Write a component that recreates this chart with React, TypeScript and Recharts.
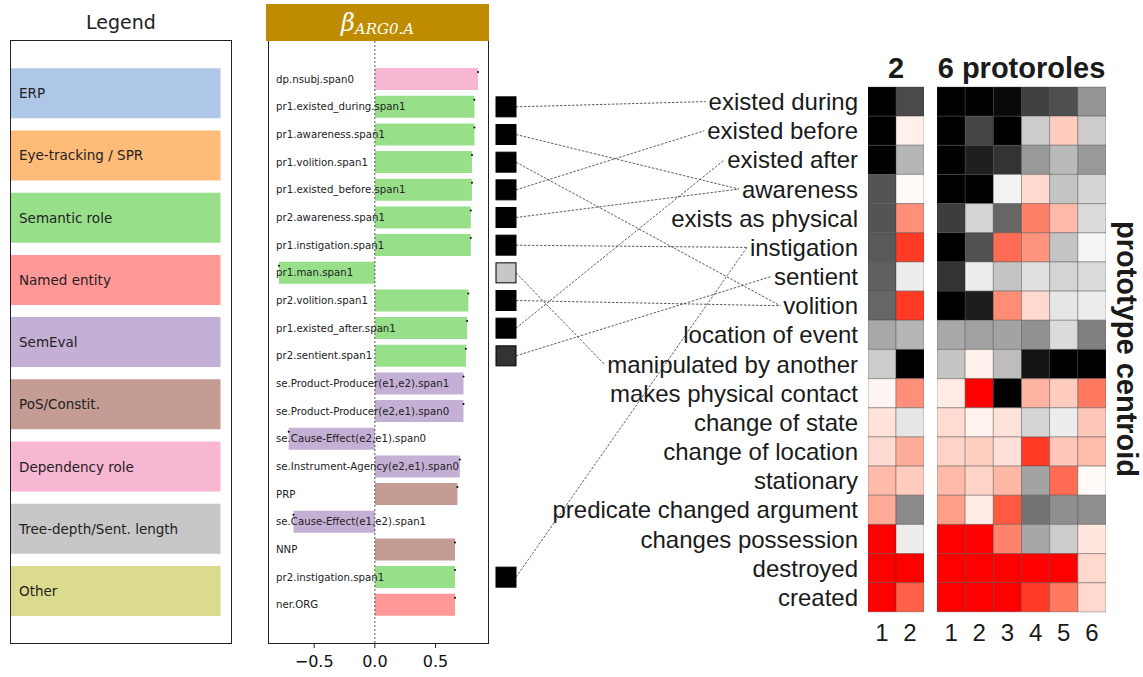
import React, { useMemo } from 'react';
import {
  BarChart,
  Bar,
  XAxis,
  YAxis,
  Cell,
  LabelList,
  ReferenceLine,
  ScatterChart,
  Scatter,
} from 'recharts';

// ---- legend panel ----
const legendGroups = [
  'ERP',
  'Eye-tracking / SPR',
  'Semantic role',
  'Named entity',
  'SemEval',
  'PoS/Constit.',
  'Dependency role',
  'Tree-depth/Sent. length',
  'Other',
];
const legendLengths = [1, 1, 1, 1, 1, 1, 1, 1, 1];

const groupColors: Record<string, string> = {
  ERP: '#aec7e8',
  'Eye-tracking / SPR': '#ffbb78',
  'Semantic role': '#98df8a',
  'Named entity': '#ff9896',
  SemEval: '#c5b0d5',
  'PoS/Constit.': '#c49c94',
  'Dependency role': '#f7b6d2',
  'Tree-depth/Sent. length': '#c7c7c7',
  Other: '#dbdb8d',
};

// ---- beta bar chart ----
const featureNames = [
  'dp.nsubj.span0',
  'pr1.existed_during.span1',
  'pr1.awareness.span1',
  'pr1.volition.span1',
  'pr1.existed_before.span1',
  'pr2.awareness.span1',
  'pr1.instigation.span1',
  'pr1.man.span1',
  'pr2.volition.span1',
  'pr1.existed_after.span1',
  'pr2.sentient.span1',
  'se.Product-Producer(e1,e2).span1',
  'se.Product-Producer(e2,e1).span0',
  'se.Cause-Effect(e2,e1).span0',
  'se.Instrument-Agency(e2,e1).span0',
  'PRP',
  'se.Cause-Effect(e1,e2).span1',
  'NNP',
  'pr2.instigation.span1',
  'ner.ORG',
];
const featureValues = [
  0.85, 0.82, 0.82, 0.8, 0.8, 0.79, 0.79, -0.79, 0.77, 0.76, 0.75, 0.73, 0.73,
  -0.71, 0.7, 0.68, -0.67, 0.66, 0.66, 0.66,
];
const featureGroups = [
  'Dependency role',
  'Semantic role',
  'Semantic role',
  'Semantic role',
  'Semantic role',
  'Semantic role',
  'Semantic role',
  'Semantic role',
  'Semantic role',
  'Semantic role',
  'Semantic role',
  'SemEval',
  'SemEval',
  'SemEval',
  'SemEval',
  'PoS/Constit.',
  'SemEval',
  'PoS/Constit.',
  'Semantic role',
  'Named entity',
];
const betaTicks = [-0.5, 0, 0.5];

// ---- protorole heatmaps ----
const protoProperties = [
  'existed during',
  'existed before',
  'existed after',
  'awareness',
  'exists as physical',
  'instigation',
  'sentient',
  'volition',
  'location of event',
  'manipulated by another',
  'makes physical contact',
  'change of state',
  'change of location',
  'stationary',
  'predicate changed argument',
  'changes possession',
  'destroyed',
  'created',
];
const twoRoleLabels = ['1', '2'];
const twoRoleCentroids = [
  [-1, -0.71],
  [-1, 0.06],
  [-1, -0.29],
  [-0.67, 0.02],
  [-0.67, 0.44],
  [-0.65, 0.77],
  [-0.62, -0.07],
  [-0.6, 0.77],
  [-0.34, -0.29],
  [-0.2, -1],
  [0.04, 0.44],
  [0.11, -0.1],
  [0.14, 0.32],
  [0.27, 0.2],
  [0.33, -0.46],
  [1, -0.07],
  [1, 1],
  [1, 0.62],
];
const sixRoleLabels = ['1', '2', '3', '4', '5', '6'];
const sixRoleCentroids = [
  [-1, -1, -0.96, -0.75, -0.69, -0.41],
  [-1, -0.73, -1, -0.2, 0.2, -0.2],
  [-1, -0.88, -0.8, -0.4, -0.27, -0.4],
  [-1, -1, -0.05, 0.15, -0.23, -0.16],
  [-0.76, -0.17, -0.6, 0.5, 0.27, -0.14],
  [-1, -0.68, 0.58, 0.42, -0.23, -0.04],
  [-0.8, -0.07, -0.23, -0.12, -0.17, -0.14],
  [-1, -0.89, 0.45, 0.15, -0.1, -0.07],
  [-0.34, -0.37, -0.36, -0.43, -0.14, -0.5],
  [-0.23, 0.06, -0.26, -0.92, -1, -1],
  [0.08, 1, -1, 0.3, 0.2, 0.53],
  [0.14, 0.05, 0.11, -0.17, -0.07, 0.22],
  [0.17, 0.19, 0.12, 0.77, 0.22, 0.26],
  [0.27, 0.17, 0.28, -0.36, 0.58, 0.02],
  [0.38, 0.08, 0.65, -0.55, -0.44, -0.44],
  [1, 1, 0.49, -0.35, -0.2, 0.1],
  [1, 1, 1, 1, 1, 0.15],
  [1, 1, 1, 0.77, 0.53, 0.15],
];

// ---- feature -> property links ----
const squareFeatures = [
  'pr1.existed_during.span1',
  'pr1.awareness.span1',
  'pr1.volition.span1',
  'pr1.existed_before.span1',
  'pr2.awareness.span1',
  'pr1.instigation.span1',
  'pr1.man.span1',
  'pr2.volition.span1',
  'pr1.existed_after.span1',
  'pr2.sentient.span1',
  'pr2.instigation.span1',
];
const squareShades = [-1, -1, -1, -1, -1, -1, -0.22, -1, -1, -0.8, -1];
const squareTargets = [
  'existed during',
  'awareness',
  'volition',
  'existed before',
  'awareness',
  'instigation',
  'manipulated by another',
  'volition',
  'existed after',
  'sentient',
  'instigation',
];

// layout
const BAR_TOP = 41;
const BAR_PLOT_H = 602;
const BAR_DOMAIN: [number, number] = [-1.38, 20.38];
const BAR_UNIT = BAR_PLOT_H / (BAR_DOMAIN[1] - BAR_DOMAIN[0]);
const BAR_PAD = (-0.5 - BAR_DOMAIN[0]) * BAR_UNIT;
const HEAT_TOP = 87;
const HEAT_H = 525;
const HEAT_ROW = HEAT_H / protoProperties.length;
const HEAT_LABEL_RIGHT = 858;
const HEAT_FONT = 24;
const SQUARE_X = 506;
const TEXT = '#1a1a1a';

const heatColor = (v: number) => {
  if (v <= 0) {
    const g = Math.round(255 * (1 + v));
    return `rgb(${g},${g},${g})`;
  }
  const g = Math.round(255 * (1 - v));
  const b = Math.round(255 * Math.pow(1 - v, 1.3));
  return `rgb(255,${g},${b})`;
};

// heat row centre expressed in bar-row units of the connector chart
const heatRowInBarUnits = (j: number) =>
  (HEAT_TOP + (j + 0.5) * HEAT_ROW - BAR_TOP) / BAR_UNIT + BAR_DOMAIN[0];

const LegendPanel = () => {
  const data = legendGroups.map((name, i) => ({ name, value: legendLengths[i] }));
  return (
    <>
      <div
        style={{
          position: 'absolute',
          left: 10,
          top: 10,
          width: 222,
          textAlign: 'center',
          fontSize: 19,
          lineHeight: '24px',
          color: '#222',
        }}
      >
        Legend
      </div>
      <div
        style={{
          position: 'absolute',
          left: 10,
          top: 40,
          width: 222,
          height: 604,
          border: '1px solid #222',
          boxSizing: 'border-box',
        }}
      />
      <div style={{ position: 'absolute', left: 11, top: 41 }}>
        <BarChart
          width={220}
          height={602}
          data={data}
          layout="vertical"
          margin={{ top: 0, right: 0, bottom: 0, left: 0 }}
          barCategoryGap="10%"
        >
          <XAxis type="number" domain={[0, 1.05]} allowDataOverflow hide />
          <YAxis type="category" dataKey="name" hide padding={{ top: 21, bottom: 21 }} />
          <Bar dataKey="value" isAnimationActive={false}>
            {data.map((d) => (
              <Cell key={d.name} fill={groupColors[d.name]} />
            ))}
            <LabelList
              dataKey="name"
              content={(p: any) => {
                const vb = p.viewBox ?? p;
                return (
                  <text
                    x={8}
                    y={vb.y + vb.height / 2}
                    dominantBaseline="central"
                    fontSize={13.5}
                    fontFamily="DejaVu Sans"
                    fill="#222"
                  >
                    {p.value}
                  </text>
                );
              }}
            />
          </Bar>
        </BarChart>
      </div>
    </>
  );
};

const BetaChart = () => {
  const data = featureNames.map((name, i) => ({
    name,
    value: featureValues[i],
    group: featureGroups[i],
  }));
  const renderLabel = (p: any) => {
    const vb = p.viewBox ?? p;
    const idx = typeof p.index === 'number' ? p.index : featureNames.indexOf(p.value);
    const v = featureValues[idx];
    const tip = v >= 0 ? Math.max(vb.x, vb.x + vb.width) : Math.min(vb.x, vb.x + vb.width);
    return (
      <g>
        <text
          x={7}
          y={vb.y + vb.height / 2}
          dominantBaseline="central"
          fontSize={10.2}
          fontFamily="DejaVu Sans"
          fill="#222"
        >
          {featureNames[idx]}
        </text>
        <circle cx={tip} cy={vb.y + 4} r={1} fill="#000" />
      </g>
    );
  };
  return (
    <>
      <div
        style={{
          position: 'absolute',
          left: 266,
          top: 4,
          width: 223,
          height: 37,
          background: '#bf8c00',
          color: '#fff',
          display: 'flex',
          alignItems: 'center',
          justifyContent: 'center',
          fontFamily: 'DejaVu Serif',
          fontStyle: 'italic',
          zIndex: 2,
        }}
      >
        <span style={{ fontSize: 24 }}>β</span>
        <span style={{ fontSize: 15, position: 'relative', top: 6 }}>ARG0.A</span>
      </div>
      <div
        style={{
          position: 'absolute',
          left: 268,
          top: 40,
          width: 221,
          height: 604,
          border: '1px solid #222',
          boxSizing: 'border-box',
        }}
      />
      <div style={{ position: 'absolute', left: 269, top: BAR_TOP }}>
        <BarChart
          width={219}
          height={BAR_PLOT_H + 40}
          data={data}
          layout="vertical"
          margin={{ top: 0, right: 0, bottom: 0, left: 0 }}
          barCategoryGap="10%"
        >
          <XAxis
            type="number"
            domain={[-0.872, 0.932]}
            allowDataOverflow
            ticks={betaTicks}
            height={40}
            axisLine={false}
            tickSize={5}
            tickMargin={8}
            tickLine={{ stroke: '#222' }}
            tick={{ fontSize: 16, fontFamily: 'DejaVu Sans', fill: '#111' }}
            tickFormatter={(v: number) => (v < 0 ? '\u2212' : '') + Math.abs(v).toFixed(1)}
          />
          <YAxis
            type="category"
            dataKey="name"
            hide
            padding={{ top: BAR_PAD, bottom: BAR_PAD }}
          />
          <Bar dataKey="value" isAnimationActive={false}>
            {data.map((d) => (
              <Cell key={d.name} fill={groupColors[d.group]} />
            ))}
            <LabelList dataKey="name" content={renderLabel} />
          </Bar>
          <ReferenceLine x={0} stroke="#555" strokeDasharray="2 2" strokeWidth={1} />
        </BarChart>
      </div>
    </>
  );
};

const Connectors = () => {
  const textWidth = useMemo(() => {
    const ctx = document.createElement('canvas').getContext('2d');
    return (s: string) => {
      if (!ctx) return s.length * HEAT_FONT * 0.5;
      ctx.font = `${HEAT_FONT}px "Liberation Sans"`;
      return ctx.measureText(s).width;
    };
  }, []);
  const squares = squareFeatures.map((f, i) => ({
    x: SQUARE_X,
    y: featureNames.indexOf(f),
    shade: squareShades[i],
  }));
  const renderSquare = (p: any) => (
    <rect
      x={p.cx - 10}
      y={p.cy - 10}
      width={20}
      height={20}
      fill={heatColor(p.payload.shade)}
      stroke="#000"
      strokeWidth={1}
    />
  );
  return (
    <div style={{ position: 'absolute', left: 490, top: BAR_TOP }}>
      <ScatterChart width={380} height={BAR_PLOT_H} margin={{ top: 0, right: 0, bottom: 0, left: 0 }}>
        <XAxis type="number" dataKey="x" domain={[490, 870]} allowDataOverflow hide />
        <YAxis type="number" dataKey="y" domain={BAR_DOMAIN} allowDataOverflow reversed hide />
        {squareFeatures.map((f, i) => {
          const target = squareTargets[i];
          const j = protoProperties.indexOf(target);
          return (
            <ReferenceLine
              key={f}
              segment={[
                { x: SQUARE_X + 10, y: featureNames.indexOf(f) },
                { x: HEAT_LABEL_RIGHT - textWidth(target) - 3, y: heatRowInBarUnits(j) },
              ]}
              stroke="#333"
              strokeWidth={0.8}
              strokeDasharray="2.5 1.5"
              ifOverflow="visible"
            />
          );
        })}
        <Scatter data={squares} shape={renderSquare} isAnimationActive={false} />
      </ScatterChart>
    </div>
  );
};

interface HeatmapProps {
  matrix: number[][];
  labels: string[];
  left: number;
  width: number;
  yAxisWidth: number;
  showRowLabels: boolean;
}

const Heatmap = ({ matrix, labels, left, width, yAxisWidth, showRowLabels }: HeatmapProps) => {
  const data = protoProperties.map((name) => {
    const row: Record<string, number | string> = { name };
    labels.forEach((_, k) => {
      row[`c${k}`] = 1;
    });
    return row;
  });
  const colTicks = labels.map((_, k) => k + 0.5);
  return (
    <div style={{ position: 'absolute', left, top: HEAT_TOP - 47 }}>
      <BarChart
        width={width}
        height={47 + HEAT_H + 40}
        data={data}
        layout="vertical"
        margin={{ top: 47, right: 0, bottom: 0, left: 0 }}
        barCategoryGap={0}
        barGap={0}
      >
        <XAxis
          type="number"
          domain={[0, labels.length]}
          allowDataOverflow
          ticks={colTicks}
          height={40}
          axisLine={false}
          tickLine={false}
          tickSize={0}
          tickMargin={12}
          tick={{ fontSize: HEAT_FONT, fontFamily: 'Liberation Sans', fill: TEXT }}
          tickFormatter={(v: number) => labels[Math.floor(v)]}
        />
        <YAxis
          type="category"
          dataKey="name"
          width={yAxisWidth}
          hide={!showRowLabels}
          interval={0}
          axisLine={false}
          tickLine={false}
          tickSize={0}
          tickMargin={10}
          tick={{ fontSize: HEAT_FONT, fontFamily: 'Liberation Sans', fill: TEXT }}
        />
        {labels.map((lab, k) => (
          <Bar key={lab} dataKey={`c${k}`} stackId="cells" isAnimationActive={false}>
            {matrix.map((r, j) => (
              <Cell
                key={protoProperties[j]}
                fill={heatColor(r[k])}
                stroke="rgba(60,60,60,0.45)"
                strokeWidth={0.8}
              />
            ))}
          </Bar>
        ))}
      </BarChart>
    </div>
  );
};

const titleStyle: React.CSSProperties = {
  position: 'absolute',
  top: 51,
  lineHeight: '34px',
  textAlign: 'center',
  fontFamily: 'Liberation Sans',
  fontWeight: 'bold',
  fontSize: 29,
  color: TEXT,
  whiteSpace: 'nowrap',
};

export default function App() {
  return (
    <div
      style={{
        position: 'absolute',
        left: 0,
        top: 0,
        width: 1143,
        height: 677,
        background: '#fff',
        overflow: 'hidden',
        fontFamily: 'DejaVu Sans',
      }}
    >
      <LegendPanel />
      <BetaChart />
      <Heatmap
        matrix={twoRoleCentroids}
        labels={twoRoleLabels}
        left={490}
        width={434}
        yAxisWidth={378}
        showRowLabels
      />
      <Heatmap
        matrix={sixRoleCentroids}
        labels={sixRoleLabels}
        left={937}
        width={169}
        yAxisWidth={0}
        showRowLabels={false}
      />
      <Connectors />
      <div style={{ ...titleStyle, left: 868, width: 56 }}>2</div>
      <div style={{ ...titleStyle, left: 937, width: 169 }}>6 protoroles</div>
      <div
        style={{
          ...titleStyle,
          top: 349,
          left: 1126,
          lineHeight: 'normal',
          transform: 'translate(-50%, -50%) rotate(90deg)',
        }}
      >
        prototype centroid
      </div>
    </div>
  );
}
